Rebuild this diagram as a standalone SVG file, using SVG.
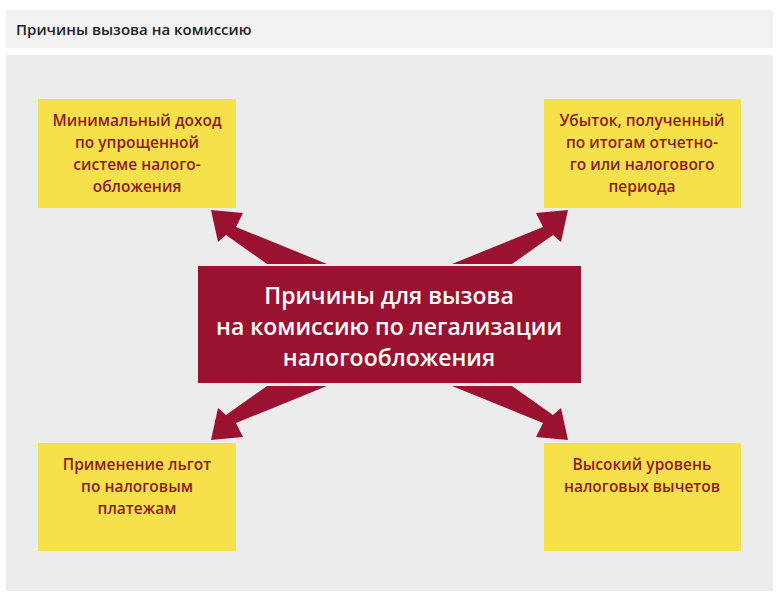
<svg xmlns="http://www.w3.org/2000/svg" width="779" height="600" viewBox="0 0 779 600">
<style>
.y{fill:#f7e14a}
.t{font-family:"Open Sans","Liberation Sans",sans-serif;font-weight:600;font-size:15.5px;fill:#8e1b24;text-anchor:middle}
.c{font-family:"Open Sans","Liberation Sans",sans-serif;font-weight:600;font-size:23px;fill:#fff;text-anchor:middle}
.a{fill:#9b1230}
</style>
<rect width="779" height="600" fill="#fff"/>
<rect x="6" y="10" width="767" height="38" fill="#f2f2f2"/>
<text x="16" y="35" font-family="Open Sans, Liberation Sans, sans-serif" font-weight="600" font-size="15" fill="#222">Причины вызова на комиссию</text>
<rect x="6" y="55" width="767" height="536" fill="#ececec"/>
<g id="connectors">
<polygon id="a1" class="a" points="211,210 243,213 236,227 327,264 267,264 226,235 218,242"/>
<use href="#a1" transform="translate(779,0) scale(-1,1)"/>
<use href="#a1" transform="translate(0,650) scale(1,-1)"/>
<use href="#a1" transform="translate(779,650) scale(-1,-1)"/>
</g>
<g id="center">
<rect x="198" y="266" width="383" height="117" fill="#9b1230"/>
<text class="c" x="389" y="304">Причины для вызова</text>
<text class="c" x="389" y="335">на комиссию по легализации</text>
<text class="c" x="389" y="366">налогообложения</text>
</g>
<g id="n1"><rect class="y" x="38" y="99" width="198" height="109"/>
<text class="t" x="137" y="126">Минимальный доход</text><text class="t" x="137" y="148">по упрощенной</text><text class="t" x="137" y="170">системе налого-</text><text class="t" x="137" y="192">обложения</text></g>
<g id="n2"><rect class="y" x="544" y="99" width="197" height="109"/>
<text class="t" x="642" y="126">Убыток, полученный</text><text class="t" x="642" y="148">по итогам отчетно-</text><text class="t" x="642" y="170">го или налогового</text><text class="t" x="642" y="192">периода</text></g>
<g id="n3"><rect class="y" x="38" y="443" width="198" height="108"/>
<text class="t" x="137" y="470">Применение льгот</text><text class="t" x="137" y="492">по налоговым</text><text class="t" x="137" y="514">платежам</text></g>
<g id="n4"><rect class="y" x="544" y="443" width="197" height="108"/>
<text class="t" x="642" y="470">Высокий уровень</text><text class="t" x="642" y="492">налоговых вычетов</text></g>
</svg>
